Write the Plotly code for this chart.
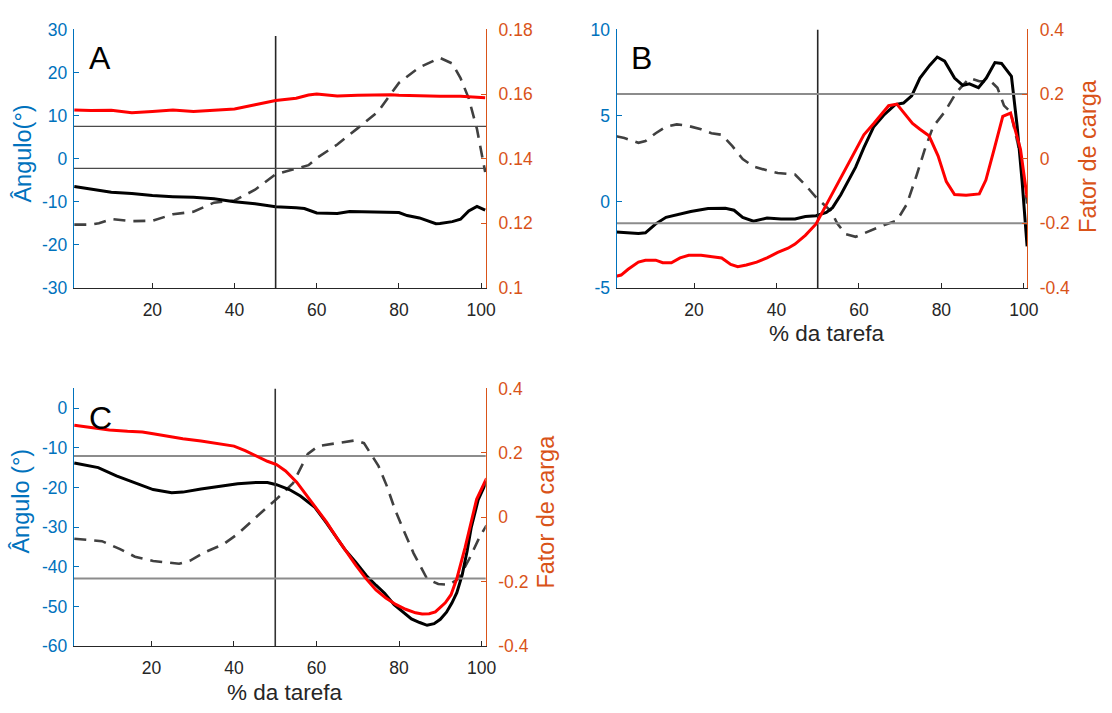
import plotly.graph_objects as go

W, H = 1112, 713

# ---------------- data ----------------
# Panel A
a_black_x = [1, 5, 10, 15, 20, 25, 30, 35, 40, 45, 50, 55, 57, 60, 65, 68, 75, 80, 82, 85, 89, 90, 93, 95, 97, 99, 101]
a_black_y = [-6.47, -7.0, -7.8, -8.1, -8.55, -8.8, -8.95, -9.3, -10.0, -10.45, -11.15, -11.4, -11.55, -12.6,
             -12.7, -12.25, -12.45, -12.5, -13.2, -13.75, -15.1, -15.05, -14.6, -14.06, -12.1, -11.05, -11.95]
a_dash_x = [1, 5, 7, 10, 15, 20, 25, 30, 35, 40, 45, 50, 55, 58, 60, 65, 70, 75, 80, 85, 90, 93, 95, 97, 99, 100, 101]
a_dash_y = [-15.3, -15.3, -15.0, -14.0, -14.5, -14.4, -12.9, -12.3, -10.2, -9.7, -7.2, -3.6, -2.3, -1.5, 0.15,
            3.3, 7.1, 11.0, 17.6, 21.2, 23.4, 22.1, 18.7, 14.0, 6.9, 1.4, -3.1]
a_red_x = [1, 5, 10, 15, 20, 25, 30, 35, 40, 45, 50, 55, 58, 60, 65, 70, 75, 78, 80, 85, 90, 95, 100, 101]
a_red_y = [0.1551, 0.1549, 0.1550, 0.1542, 0.1546, 0.1551, 0.1546, 0.1549, 0.1554, 0.1567, 0.1580, 0.1587,
           0.1597, 0.1600, 0.1594, 0.1596, 0.1597, 0.1598, 0.1596, 0.1594, 0.1593, 0.1593, 0.1591, 0.1589]
a_limits = [0.15, 0.137]

# Panel B
b_black_x = [1.1, 4, 6.5, 8.2, 10.7, 13.2, 17.5, 19.2, 23.4, 27.6, 29.7, 31.8, 34.4, 37.7, 41.1, 44.5, 47.0,
             49.6, 52.1, 53.6, 55.6, 59.2, 61.2, 63.6, 66.0, 68.8, 70.8, 72.8, 74.8, 77.2, 79.0, 80.8, 83.2,
             85.2, 86.8, 89.0, 90.9, 93.0, 94.6, 97.0, 98.4, 99.6, 100.8]
b_black_y = [-1.75, -1.82, -1.84, -1.80, -1.28, -0.90, -0.68, -0.56, -0.39, -0.38, -0.49, -0.90, -1.13, -0.94,
             -1.0, -1.0, -0.85, -0.81, -0.62, -0.34, 0.41, 2.01, 3.14, 4.36, 5.02, 5.64, 5.73, 6.15, 7.18, 7.93,
             8.40, 8.16, 7.18, 6.75, 6.84, 6.62, 7.18, 8.08, 8.03, 7.28, 4.36, 1.16, -2.59]
b_dash_x = [1.1, 3.1, 6.5, 8.2, 10.7, 13.2, 15.8, 18.3, 21.7, 24.2, 26.7, 29.3, 31.8, 34.4, 37.7, 40.3, 44.5,
            47.0, 49.6, 53.2, 54.8, 56.8, 59.2, 62.0, 65.2, 69.2, 71.6, 74.0, 76.0, 78.0, 80.8, 83.6, 86.8,
            89.2, 92.0, 93.6, 95.2, 96.8, 99.2, 100.8]
b_dash_y = [3.80, 3.70, 3.42, 3.52, 3.98, 4.36, 4.49, 4.42, 4.21, 3.98, 3.89, 3.23, 2.48, 2.05, 1.82, 1.67,
            1.58, 0.98, 0.26, -0.53, -1.28, -1.88, -2.03, -1.75, -1.43, -1.09, -0.15, 1.54, 3.05, 4.36, 5.21,
            6.33, 7.18, 6.99, 6.99, 6.62, 5.58, 5.21, 2.67, -0.1]
b_red_x = [1.1, 2.3, 4.0, 6.5, 8.2, 10.7, 12.4, 14.5, 16.6, 18.7, 21.7, 24.2, 26.7, 28.9, 30.6, 32.7, 35.2,
           37.7, 40.3, 42.8, 44.5, 47.0, 49.6, 52.1, 53.2, 56.4, 58.8, 61.2, 63.6, 65.2, 67.2, 69.2, 71.2,
           73.0, 74.8, 77.0, 79.2, 81.2, 83.2, 86.0, 89.2, 90.8, 92.8, 94.9, 96.8, 99.2, 100.8]
b_red_y = [-0.364, -0.360, -0.342, -0.320, -0.314, -0.314, -0.322, -0.322, -0.307, -0.299, -0.299, -0.302,
           -0.307, -0.327, -0.334, -0.329, -0.320, -0.307, -0.290, -0.277, -0.264, -0.237, -0.202, -0.142,
           -0.116, -0.041, 0.019, 0.074, 0.109, 0.134, 0.164, 0.169, 0.139, 0.109, 0.091, 0.071, 0.009,
           -0.071, -0.111, -0.113, -0.109, -0.066, 0.029, 0.131, 0.141, 0.029, -0.12]
b_limits = [0.2, -0.2]

# Panel C
c_black_x = [1.3, 7.1, 11.5, 16.0, 20.4, 24.9, 27.6, 32.0, 36.5, 40.9, 45.4, 48.1, 50.3, 53.4, 56.1, 59.6,
             62.4, 64.1, 66.8, 69.5, 72.1, 74.4, 76.5, 78.8, 81.0, 83.0, 85.0, 86.8, 88.5, 90.0, 91.5, 92.8,
             94.0, 95.3, 96.5, 97.5, 99.2, 101.2]
c_black_y = [-13.8, -14.96, -17.07, -18.86, -20.49, -21.3, -21.14, -20.33, -19.67, -19.02, -18.7, -18.7,
             -19.27, -20.49, -22.11, -24.96, -28.9, -31.5, -35.5, -38.8, -42.2, -44.6, -46.6, -49.5, -51.5,
             -53.1, -54.0, -54.7, -54.3, -53.2, -51.4, -49.1, -46.5, -42.0, -36.0, -30.0, -23.0, -18.5]
c_dash_x = [1.3, 8.0, 12.4, 16.0, 20.4, 26.7, 29.4, 32.9, 37.4, 40.9, 45.4, 50.3, 54.3, 57.9, 60.5, 65.0, 69.4,
            71.5, 73.4, 75.0, 77.0, 79.0, 81.0, 83.5, 86.8, 89.5, 92.0, 94.4, 97.0, 99.5, 101.2]
c_dash_y = [-32.9, -33.5, -35.5, -37.4, -38.5, -39.2, -38.4, -36.3, -34.3, -31.7, -27.4, -22.9, -18.9, -11.5,
            -9.5, -8.7, -8.1, -8.8, -11.8, -14.5, -19.5, -25.5, -30.5, -36.5, -43.0, -44.3, -44.5, -43.0,
            -38.0, -32.5, -29.5]
c_red_x = [1.3, 5.3, 9.8, 14.2, 17.8, 20.4, 24.0, 27.6, 32.0, 36.5, 40.0, 42.7, 45.4, 48.1, 50.3, 52.5, 55.2,
           57.9, 60.5, 62.4, 65.0, 67.3, 69.6, 72.0, 74.4, 76.8, 79.2, 81.6, 84.0, 85.6, 87.3, 88.8, 91.2,
           92.6, 94.0, 96.0, 97.4, 98.8, 101.2]
c_red_y = [0.286, 0.279, 0.271, 0.267, 0.265, 0.259, 0.251, 0.244, 0.237, 0.229, 0.221, 0.207, 0.191, 0.174,
           0.164, 0.144, 0.109, 0.063, 0.018, -0.014, -0.065, -0.109, -0.150, -0.19, -0.225, -0.250, -0.270,
           -0.285, -0.296, -0.300, -0.299, -0.293, -0.265, -0.240, -0.19, -0.094, -0.02, 0.056, 0.121]
c_limits = [0.19, -0.19]

event_x = 50

# tick values / labels
x_ticks = [20, 40, 60, 80, 100]
a_left_ticks = [-30, -20, -10, 0, 10, 20, 30]
a_right_ticks = [0.1, 0.12, 0.14, 0.16, 0.18]
a_right_text = ["0.1", "0.12", "0.14", "0.16", "0.18"]
b_left_ticks = [-5, 0, 5, 10]
c_left_ticks = [-60, -50, -40, -30, -20, -10, 0]
load_ticks = [-0.4, -0.2, 0, 0.2, 0.4]
load_text = ["-0.4", "-0.2", "0", "0.2", "0.4"]

# ---------------- styling ----------------
BLUE = "#0072BD"
ORANGE = "#D95319"
AXIS_DARK = "#262626"
FONT = "Liberation Sans, Arial, Helvetica, sans-serif"
TICK_SIZE = 17.5
TITLE_SIZE = 23.5
XTITLE_SIZE = 22.5


def fx(p):
    return p / W


def fy(p):
    return 1 - p / H


fig = go.Figure()


def add_panel(xa, yl, yr, black_x, black_y, dash_x, dash_y, red_x, red_y, limits, limit_color, limit_width):
    xs = [0, 200]
    for lv in limits:
        fig.add_trace(go.Scatter(x=xs, y=[lv, lv], mode="lines", xaxis=xa, yaxis=yr,
                                 line=dict(color=limit_color, width=limit_width), hoverinfo="skip",
                                 showlegend=False))
    fig.add_trace(go.Scatter(x=dash_x, y=dash_y, mode="lines", xaxis=xa, yaxis=yl,
                             line=dict(color="#404040", width=2.6, dash="12px,8px"), showlegend=False))
    fig.add_trace(go.Scatter(x=black_x, y=black_y, mode="lines", xaxis=xa, yaxis=yl,
                             line=dict(color="#000000", width=3), showlegend=False))
    fig.add_trace(go.Scatter(x=red_x, y=red_y, mode="lines", xaxis=xa, yaxis=yr,
                             line=dict(color="#FF0000", width=3), showlegend=False))


add_panel("x", "y", "y2", a_black_x, a_black_y, a_dash_x, a_dash_y, a_red_x, a_red_y, a_limits, "#4a4a4a", 1.3)
add_panel("x2", "y3", "y4", b_black_x, b_black_y, b_dash_x, b_dash_y, b_red_x, b_red_y, b_limits, "#8c8c8c", 2)
add_panel("x3", "y5", "y6", c_black_x, c_black_y, c_dash_x, c_dash_y, c_red_x, c_red_y, c_limits, "#8c8c8c", 2)

# event markers at 50 % of the task
fig.add_trace(go.Scatter(x=[event_x, event_x], y=[-30, 28.5], mode="lines", xaxis="x", yaxis="y",
                         line=dict(color=AXIS_DARK, width=1.6), showlegend=False, hoverinfo="skip"))
fig.add_trace(go.Scatter(x=[event_x, event_x], y=[-5, 10], mode="lines", xaxis="x2", yaxis="y3",
                         line=dict(color=AXIS_DARK, width=1.6), showlegend=False, hoverinfo="skip"))
fig.add_trace(go.Scatter(x=[event_x, event_x], y=[-60, 5], mode="lines", xaxis="x3", yaxis="y5",
                         line=dict(color="#333333", width=1.6), showlegend=False, hoverinfo="skip"))

A_DOM_X = [fx(74.7), fx(491.3)]
B_DOM_X = [fx(623.3), fx(1038.3)]
C_DOM_X = [fx(74.7), fx(491.0)]
TOP_DOM_Y = [fy(286), fy(20)]
C_DOM_Y = [fy(654.7), fy(389.3)]


def xaxis_style(dom, rng, anchor):
    return dict(domain=dom, range=rng, anchor=anchor, showline=True, linecolor=AXIS_DARK, linewidth=1.2,
                ticks="inside", ticklen=5, tickcolor=AXIS_DARK, tickwidth=1.2, tickvals=x_ticks,
                tickfont=dict(family=FONT, size=TICK_SIZE, color=AXIS_DARK), showgrid=False,
                zeroline=False, ticklabelstandoff=6)


def left_style(dom, rng, anchor, vals):
    return dict(domain=dom, range=rng, anchor=anchor, showline=True, linecolor=BLUE, linewidth=1.2,
                ticks="inside", ticklen=5, tickcolor=BLUE, tickwidth=1.2, tickvals=vals,
                ticktext=[str(v) for v in vals],
                tickfont=dict(family=FONT, size=TICK_SIZE, color=BLUE), showgrid=False, zeroline=False,
                ticklabelstandoff=2)


def right_style(rng, anchor, overlay, vals, text):
    return dict(range=rng, anchor=anchor, overlaying=overlay, side="right", showline=True,
                linecolor=ORANGE, linewidth=1.2, ticks="inside", ticklen=5, tickcolor=ORANGE, tickwidth=1.2,
                tickvals=vals, ticktext=text, tickfont=dict(family=FONT, size=TICK_SIZE, color=ORANGE),
                showgrid=False, zeroline=False, ticklabelstandoff=8)


fig.update_layout(
    width=W, height=H, margin=dict(l=0, r=0, t=0, b=0), autosize=False,
    paper_bgcolor="white", plot_bgcolor="white", showlegend=False,
    xaxis=xaxis_style(A_DOM_X, [0.9, 101.2], "y"),
    yaxis=left_style(TOP_DOM_Y, [-30, 30], "x", a_left_ticks),
    yaxis2=right_style([0.1, 0.18], "x", "y", a_right_ticks, a_right_text),
    xaxis2=xaxis_style(B_DOM_X, [1.2, 100.8], "y3"),
    yaxis3=left_style(TOP_DOM_Y, [-5, 10], "x2", b_left_ticks),
    yaxis4=right_style([-0.4, 0.4], "x2", "y3", load_ticks, load_text),
    xaxis3=xaxis_style(C_DOM_X, [1.2, 101.0], "y5"),
    yaxis5=left_style(C_DOM_Y, [-60, 5], "x3", c_left_ticks),
    yaxis6=right_style([-0.4, 0.4], "x3", "y5", load_ticks, load_text),
)


def label(text, x, y, size, color, angle=0):
    fig.add_annotation(text=text, x=fx(x), y=fy(y), xref="paper", yref="paper", showarrow=False,
                       xanchor="center", yanchor="middle", textangle=angle,
                       font=dict(family=FONT, size=size, color=color))


# panel letters
label("A", 101, 49, 32, "black")
label("B", 648, 49, 32, "black")
label("C", 102, 420, 32, "black")

# axis titles
label("Ângulo(°)", 23, 148, TITLE_SIZE, BLUE, -90)
label("Ângulo (°)", 21, 505, TITLE_SIZE, BLUE, -90)
label("Fator de carga", 1100, 150, TITLE_SIZE, ORANGE, -90)
label("Fator de carga", 551, 516, TITLE_SIZE, ORANGE, -90)
label("% da tarefa", 836, 333, XTITLE_SIZE, AXIS_DARK)
label("% da tarefa", 288, 702, XTITLE_SIZE, AXIS_DARK)

fig.write_html("out.html")
